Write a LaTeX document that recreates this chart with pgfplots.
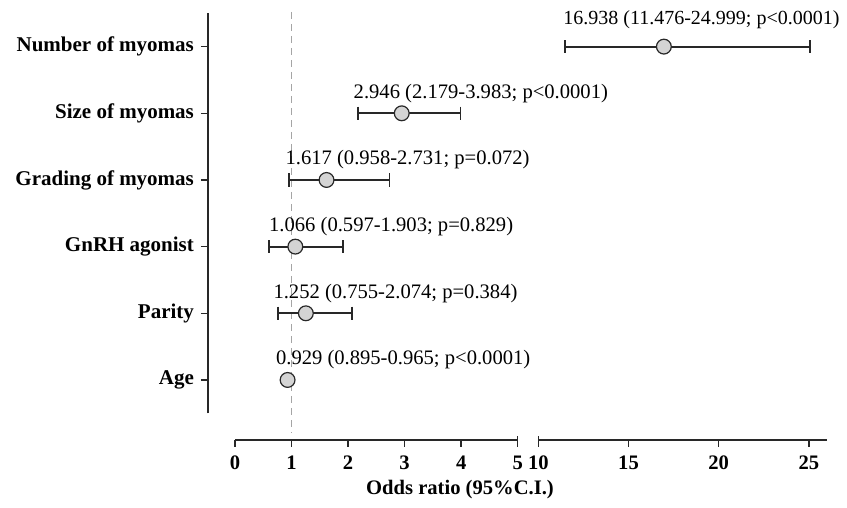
\documentclass[border=0pt]{standalone}
\usepackage{pgfplots}
\pgfplotsset{compat=1.18}
\usepackage{fontspec}
\setmainfont{Liberation Serif}

\definecolor{ptfill}{RGB}{212,212,212}
\definecolor{ink}{RGB}{40,40,40}
\definecolor{refline}{RGB}{165,165,165}

% 1 px of the reference = 0.5pt
\pgfplotsset{
  forest/.style={
    scale only axis, clip=false,
    height=200pt, ymin=0.5, ymax=6.5,
  },
  ci/.style={ink, line width=0.9pt, mark=|, mark size=3.3pt,
    mark options={line width=0.9pt}},
  pt/.style={only marks, mark=*, mark size=3.7pt,
    mark options={fill=ptfill, draw=ink, line width=0.6pt}},
  bottomax/.style={
    scale only axis, clip=false,
    height=1pt, ymin=0, ymax=1,
    axis x line=bottom, axis y line=none,
    axis line style={ink, line width=0.75pt, -},
    tick align=outside, major tick length=3.5pt,
    tick style={ink, line width=0.75pt},
    xticklabel style={font=\fontsize{10.3}{12}\selectfont\bfseries, yshift=-1pt},
    extra tick style={tick align=center, major tick length=3.5pt},
  },
}
\tikzset{est/.style={anchor=base west, inner xsep=0pt, yshift=7.5pt}}

\begin{document}
\begin{tikzpicture}
\useasboundingbox (0,0) rectangle (423.5pt,254pt);

% left panel: 0 to 5
\begin{axis}[forest,
  at={(104pt,47.35pt)}, anchor=south west,
  width=169.15pt, xmin=-0.477, xmax=5.5,
  axis x line=none, axis y line=left,
  axis line style={ink, line width=0.75pt, -},
  every outer y axis line/.append style={-},
  ytick={1,2,3,4,5,6},
  yticklabels={Age, Parity, GnRH agonist, Grading of myomas, Size of myomas, Number of myomas},
  yticklabel style={font=\fontsize{10.5}{12}\selectfont\bfseries},
  tick align=outside, major tick length=3.5pt,
  tick style={ink, line width=0.75pt},
  nodes={font=\fontsize{10.3}{12}\selectfont},
]
\draw[refline, line width=0.6pt, dash pattern=on 3.5pt off 2.5pt]
  (axis cs:1,6.52) -- (axis cs:1,0.205);

% Size of myomas
\addplot[ci] coordinates {(2.179,5) (3.983,5)};
\addplot[pt] coordinates {(2.946,5)};
% Grading of myomas
\addplot[ci] coordinates {(0.958,4) (2.731,4)};
\addplot[pt] coordinates {(1.617,4)};
% GnRH agonist
\addplot[ci] coordinates {(0.597,3) (1.903,3)};
\addplot[pt] coordinates {(1.066,3)};
% Parity
\addplot[ci] coordinates {(0.755,2) (2.074,2)};
\addplot[pt] coordinates {(1.252,2)};
% Age
\addplot[pt] coordinates {(0.929,1)};

\node[est, xshift=-2.5pt] at (axis cs:2.179,5) {2.946 (2.179-3.983; p<0.0001)};
\node[est, xshift=-2pt] at (axis cs:0.958,4) {1.617 (0.958-2.731; p=0.072)};
\node[est, xshift=0pt] at (axis cs:0.597,3) {1.066 (0.597-1.903; p=0.829)};
\node[est, xshift=-2.3pt] at (axis cs:0.755,2) {1.252 (0.755-2.074; p=0.384)};
\node[est, xshift=-5pt] at (axis cs:0.895,1) {0.929 (0.895-0.965; p<0.0001)};
\end{axis}

% right panel: 10 to 27
\begin{axis}[forest,
  at={(269.15pt,47.35pt)}, anchor=south west,
  width=153.85pt, xmin=10, xmax=27,
  axis lines=none,
]
\addplot[ci] coordinates {(11.476,6) (24.999,6)};
\addplot[pt] coordinates {(16.938,6)};
\node[est, xshift=-1pt, yshift=3.5pt, font=\fontsize{10}{12}\selectfont] at (axis cs:11.476,6) {16.938 (11.476-24.999; p<0.0001)};
\end{axis}

% broken x axis, first part
\begin{axis}[bottomax,
  at={(117.5pt,34pt)}, anchor=south west,
  width=141.35pt, xmin=0, xmax=5,
  xtick={0,1,2,3,4,5}, xticklabels={0,1,2,3,4,5},
  extra x ticks={5}, extra x tick labels={},
]
\end{axis}

% broken x axis, second part
\begin{axis}[bottomax,
  at={(269.15pt,34pt)}, anchor=south west,
  width=144.35pt, xmin=10, xmax=26,
  xtick={10,15,20,25}, xticklabels={10,15,20,25},
  extra x ticks={10}, extra x tick labels={},
]
\end{axis}

\node[font=\fontsize{10.3}{12}\selectfont\bfseries] at (230pt,9pt) {Odds ratio (95\%C.I.)};
\end{tikzpicture}
\end{document}
